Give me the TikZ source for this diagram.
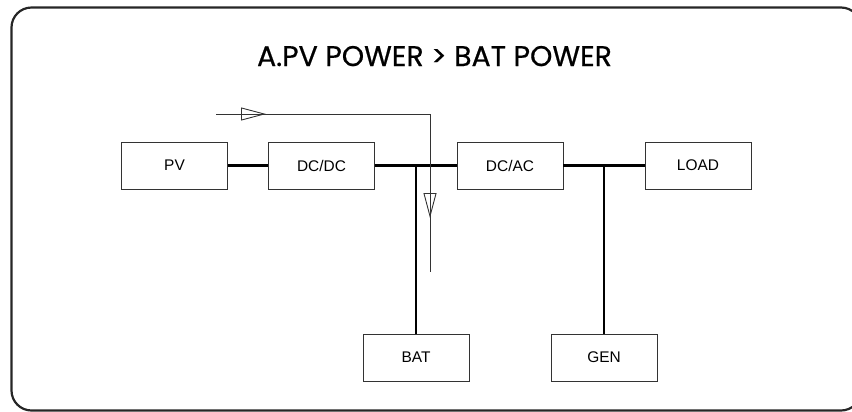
\documentclass[tikz,border=0pt]{standalone}
\usepackage{fontspec}
\setmainfont{Liberation Sans}
\newfontfamily\titlefont[FakeBold=0.6]{Poppins}
\usetikzlibrary{arrows.meta,decorations.markings}
\definecolor{frame}{HTML}{262626}
\definecolor{edge}{HTML}{333333}
\tikzset{
  unitbox/.style={draw=edge, line width=0.9bp, minimum width=106bp, minimum height=47bp, inner sep=0pt, font=\fontsize{15.5}{18}\selectfont},
  bus/.style={line width=2.2bp, black},
  flow/.style={line width=0.9bp, edge},
  opentip/.tip={Triangle[open, length=25bp, width=13bp, line width=0.9bp]}
}
\begin{document}
\begin{tikzpicture}[x=1bp, y=-1bp]
\useasboundingbox (0,0) rectangle (852,411);
\draw[frame, line width=2.2bp, rounded corners=20bp] (11.5,7.5) rectangle (861,410.5);
\node[font=\titlefont\fontsize{28.5}{32}\selectfont, anchor=base, inner sep=0pt] (title) at (434.5,66) {A.PV POWER > BAT POWER};
\node[unitbox] (pv) at (174.5,165.5) {PV};
\node[unitbox] (dcdc) at (321.5,165.5) {DC/DC};
\node[unitbox] (dcac) at (510,165.5) {DC/AC};
\node[unitbox] (load) at (698,165.5) {LOAD};
\node[unitbox] (bat) at (416,357.5) {BAT};
\node[unitbox] (gen) at (604,357.5) {GEN};
\coordinate (j1) at (416,166);
\coordinate (j2) at (604,166);
\draw[bus] (pv.east) -- (dcdc.west);
\draw[bus] (dcdc.east) -- (dcac.west);
\draw[bus] (dcac.east) -- (load.west);
\draw[bus] (j1) -- (bat.north);
\draw[bus] (j2) -- (gen.north);
\coordinate (fs) at (216,114);
\coordinate (fc) at (430,114);
\coordinate (fe) at (430,272);
\draw[flow, postaction={decorate, decoration={markings,
    mark=at position 50bp with {\arrow[edge]{opentip}},
    mark=at position 318bp with {\arrow[edge]{opentip}}}}]
  (fs) -- (fc) -- (fe);
\end{tikzpicture}
\end{document}
